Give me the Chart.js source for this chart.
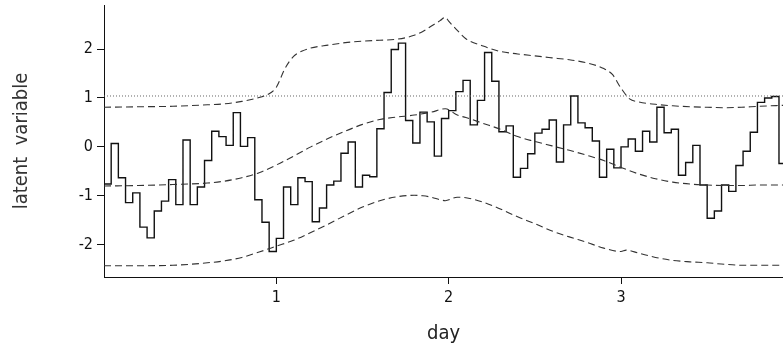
<!DOCTYPE html>
<html lang="en">
<head>
  <meta charset="UTF-8">
  <title>Latent variable by day</title>
  <script src="https://cdn.jsdelivr.net/npm/chart.js"></script>
  <style>
    body {
      margin: 0;
      background: #ffffff;
    }
    #wrap {
      width: 783px;
      height: 350px;
    }
  </style>
</head>
<body>
  <div id="wrap">
    <canvas id="myChart" width="783" height="350"></canvas>
  </div>

  <script>
    // hourly step values (hour 0 .. 94)
    const hourValues = [
      -0.76, 0.07, -0.63, -1.14, -0.94, -1.64, -1.86, -1.31, -1.11, -0.67,
      -1.18, 0.14, -1.18, -0.82, -0.28, 0.32, 0.21, 0.03, 0.70, 0.01,
      0.19, -1.08, -1.54, -2.14, -1.87, -0.82, -1.18, -0.63, -0.71, -1.53,
      -1.25, -0.78, -0.70, -0.13, 0.10, -0.82, -0.58, -0.61, 0.37, 1.11,
      1.99, 2.12, 0.54, 0.08, 0.71, 0.51, -0.19, 0.58, 0.74, 1.13,
      1.36, 0.45, 0.95, 1.93, 1.34, 0.31, 0.43, -0.62, -0.44, -0.14,
      0.28, 0.36, 0.55, -0.31, 0.45, 1.04, 0.49, 0.39, 0.12, -0.62,
      -0.05, -0.43, 0.00, 0.16, -0.09, 0.32, 0.10, 0.81, 0.29, 0.36,
      -0.58, -0.32, 0.03, -0.78, -1.46, -1.31, -0.78, -0.91, -0.38, -0.09,
      0.30, 0.91, 1.00, 1.03, -0.34
    ];

    // upper band (dashed)
    const upperDays = [0, 0.2, 0.4, 0.6, 0.7, 0.8, 0.9, 0.95, 1.0, 1.05,
      1.1, 1.15, 1.2, 1.3, 1.4, 1.5, 1.6, 1.7, 1.8, 1.85,
      1.9, 1.95, 1.98, 2.0, 2.05, 2.1, 2.2, 2.3, 2.4, 2.5,
      2.6, 2.7, 2.8, 2.9, 2.95, 3.0, 3.05, 3.1, 3.2, 3.3,
      3.4, 3.5, 3.6, 3.7, 3.8, 3.95];
    const upperValues = [0.81, 0.82, 0.83, 0.86, 0.88, 0.93, 1.01, 1.07, 1.22, 1.6,
      1.85, 1.96, 2.02, 2.08, 2.13, 2.16, 2.18, 2.2, 2.28, 2.36,
      2.47, 2.58, 2.65, 2.57, 2.38, 2.21, 2.06, 1.95, 1.9, 1.86,
      1.82, 1.78, 1.72, 1.6, 1.48, 1.2, 0.98, 0.92, 0.87, 0.84,
      0.82, 0.81, 0.8, 0.81, 0.83, 0.85];

    // middle curve (dashed)
    const midDays = [0, 0.2, 0.4, 0.6, 0.7, 0.8, 0.9, 1.0, 1.1, 1.2,
      1.3, 1.4, 1.5, 1.6, 1.7, 1.8, 1.9, 1.98, 2.05, 2.1,
      2.2, 2.3, 2.4, 2.5, 2.6, 2.7, 2.8, 2.9, 3.0, 3.1,
      3.2, 3.3, 3.4, 3.5, 3.6, 3.7, 3.8, 3.95];
    const midValues = [-0.80, -0.79, -0.77, -0.74, -0.70, -0.63, -0.53, -0.37, -0.19, 0.0,
      0.17, 0.32, 0.46, 0.56, 0.61, 0.65, 0.71, 0.78, 0.65, 0.60,
      0.48, 0.36, 0.21, 0.11, 0.02, -0.07, -0.17, -0.28, -0.42, -0.55,
      -0.65, -0.72, -0.76, -0.78, -0.79, -0.79, -0.78, -0.78];

    // lower band (dashed)
    const lowDays = [0, 0.2, 0.4, 0.5, 0.6, 0.7, 0.8, 0.9, 1.0, 1.1,
      1.2, 1.3, 1.4, 1.5, 1.6, 1.7, 1.8, 1.85, 1.9, 1.95,
      1.98, 2.05, 2.1, 2.2, 2.3, 2.4, 2.5, 2.6, 2.7, 2.8,
      2.9, 3.0, 3.03, 3.1, 3.2, 3.3, 3.4, 3.5, 3.6, 3.7,
      3.8, 3.95];
    const lowValues = [-2.43, -2.43, -2.42, -2.40, -2.37, -2.33, -2.26, -2.15, -2.03, -1.91,
      -1.75, -1.58, -1.40, -1.23, -1.10, -1.02, -0.99, -1.00, -1.03, -1.08,
      -1.10, -1.03, -1.04, -1.13, -1.27, -1.43, -1.57, -1.72, -1.84, -1.95,
      -2.07, -2.14, -2.11, -2.17, -2.26, -2.32, -2.35, -2.37, -2.40, -2.42,
      -2.42, -2.42];

    // horizontal reference line
    const refLevel = 1.04;

    const xTicks = [1, 2, 3];
    const yTicks = [-2, -1, 0, 1, 2];

    const fontFamily = "'Liberation Sans Narrow', 'DejaVu Sans Condensed', 'Liberation Sans', sans-serif";

    // build point lists
    const stepPoints = hourValues.map((v, i) => ({ x: i / 24, y: v }));
    stepPoints.push({ x: hourValues.length / 24, y: hourValues[hourValues.length - 1] });

    const toPoints = (days, vals) => days.map((d, i) => ({ x: d, y: vals[i] }));

    const dashedStyle = {
      borderColor: '#333333',
      borderWidth: 1.1,
      borderDash: [7, 4],
      pointRadius: 0,
      fill: false,
      cubicInterpolationMode: 'monotone'
    };

    const ctx = document.getElementById('myChart').getContext('2d');

    const config = {
      type: 'line',
      data: {
        datasets: [
          {
            label: 'reference',
            data: [{ x: 0, y: refLevel }, { x: 4, y: refLevel }],
            borderColor: '#666666',
            borderWidth: 1,
            borderDash: [1, 2],
            pointRadius: 0,
            fill: false
          },
          Object.assign({ label: 'upper', data: toPoints(upperDays, upperValues) }, dashedStyle),
          Object.assign({ label: 'middle', data: toPoints(midDays, midValues) }, dashedStyle),
          Object.assign({ label: 'lower', data: toPoints(lowDays, lowValues) }, dashedStyle),
          {
            label: 'hourly',
            data: stepPoints,
            stepped: 'before',
            borderColor: '#111111',
            borderWidth: 1.4,
            pointRadius: 0,
            fill: false
          }
        ]
      },
      options: {
        responsive: false,
        animation: false,
        layout: {
          padding: { top: 5, right: 0, bottom: 0, left: 0 }
        },
        plugins: {
          legend: { display: false },
          tooltip: { enabled: false }
        },
        scales: {
          x: {
            type: 'linear',
            min: 0,
            max: 3.94,
            afterBuildTicks: (scale) => {
              scale.ticks = xTicks.map(v => ({ value: v }));
            },
            afterFit: (scale) => {
              scale.height = 73;
              scale.paddingLeft = 0;
              scale.paddingRight = 0;
            },
            border: { display: true, color: '#111111', width: 1 },
            grid: {
              drawOnChartArea: false,
              drawTicks: true,
              tickLength: 7,
              color: '#111111'
            },
            ticks: {
              padding: 4,
              maxRotation: 0,
              color: '#111111',
              font: { family: fontFamily, size: 16 }
            },
            title: {
              display: true,
              text: 'day',
              color: '#222222',
              padding: { top: 0, bottom: 6 },
              font: { family: fontFamily, size: 20, lineHeight: 1 }
            }
          },
          y: {
            type: 'linear',
            min: -2.66,
            max: 2.9,
            afterBuildTicks: (scale) => {
              scale.ticks = yTicks.map(v => ({ value: v }));
            },
            afterFit: (scale) => {
              scale.width = 104;
              scale.paddingTop = 0;
              scale.paddingBottom = 0;
            },
            border: { display: true, color: '#111111', width: 1 },
            grid: {
              drawOnChartArea: false,
              drawTicks: true,
              tickLength: 7,
              color: '#111111'
            },
            ticks: {
              padding: 4,
              color: '#111111',
              font: { family: fontFamily, size: 16 }
            },
            title: {
              display: true,
              text: 'latent  variable',
              color: '#333333',
              padding: { top: 12, bottom: 0 },
              font: { family: fontFamily, size: 20, lineHeight: 1 }
            }
          }
        }
      }
    };

    const myChart = new Chart(ctx, config);
  </script>
</body>
</html>
